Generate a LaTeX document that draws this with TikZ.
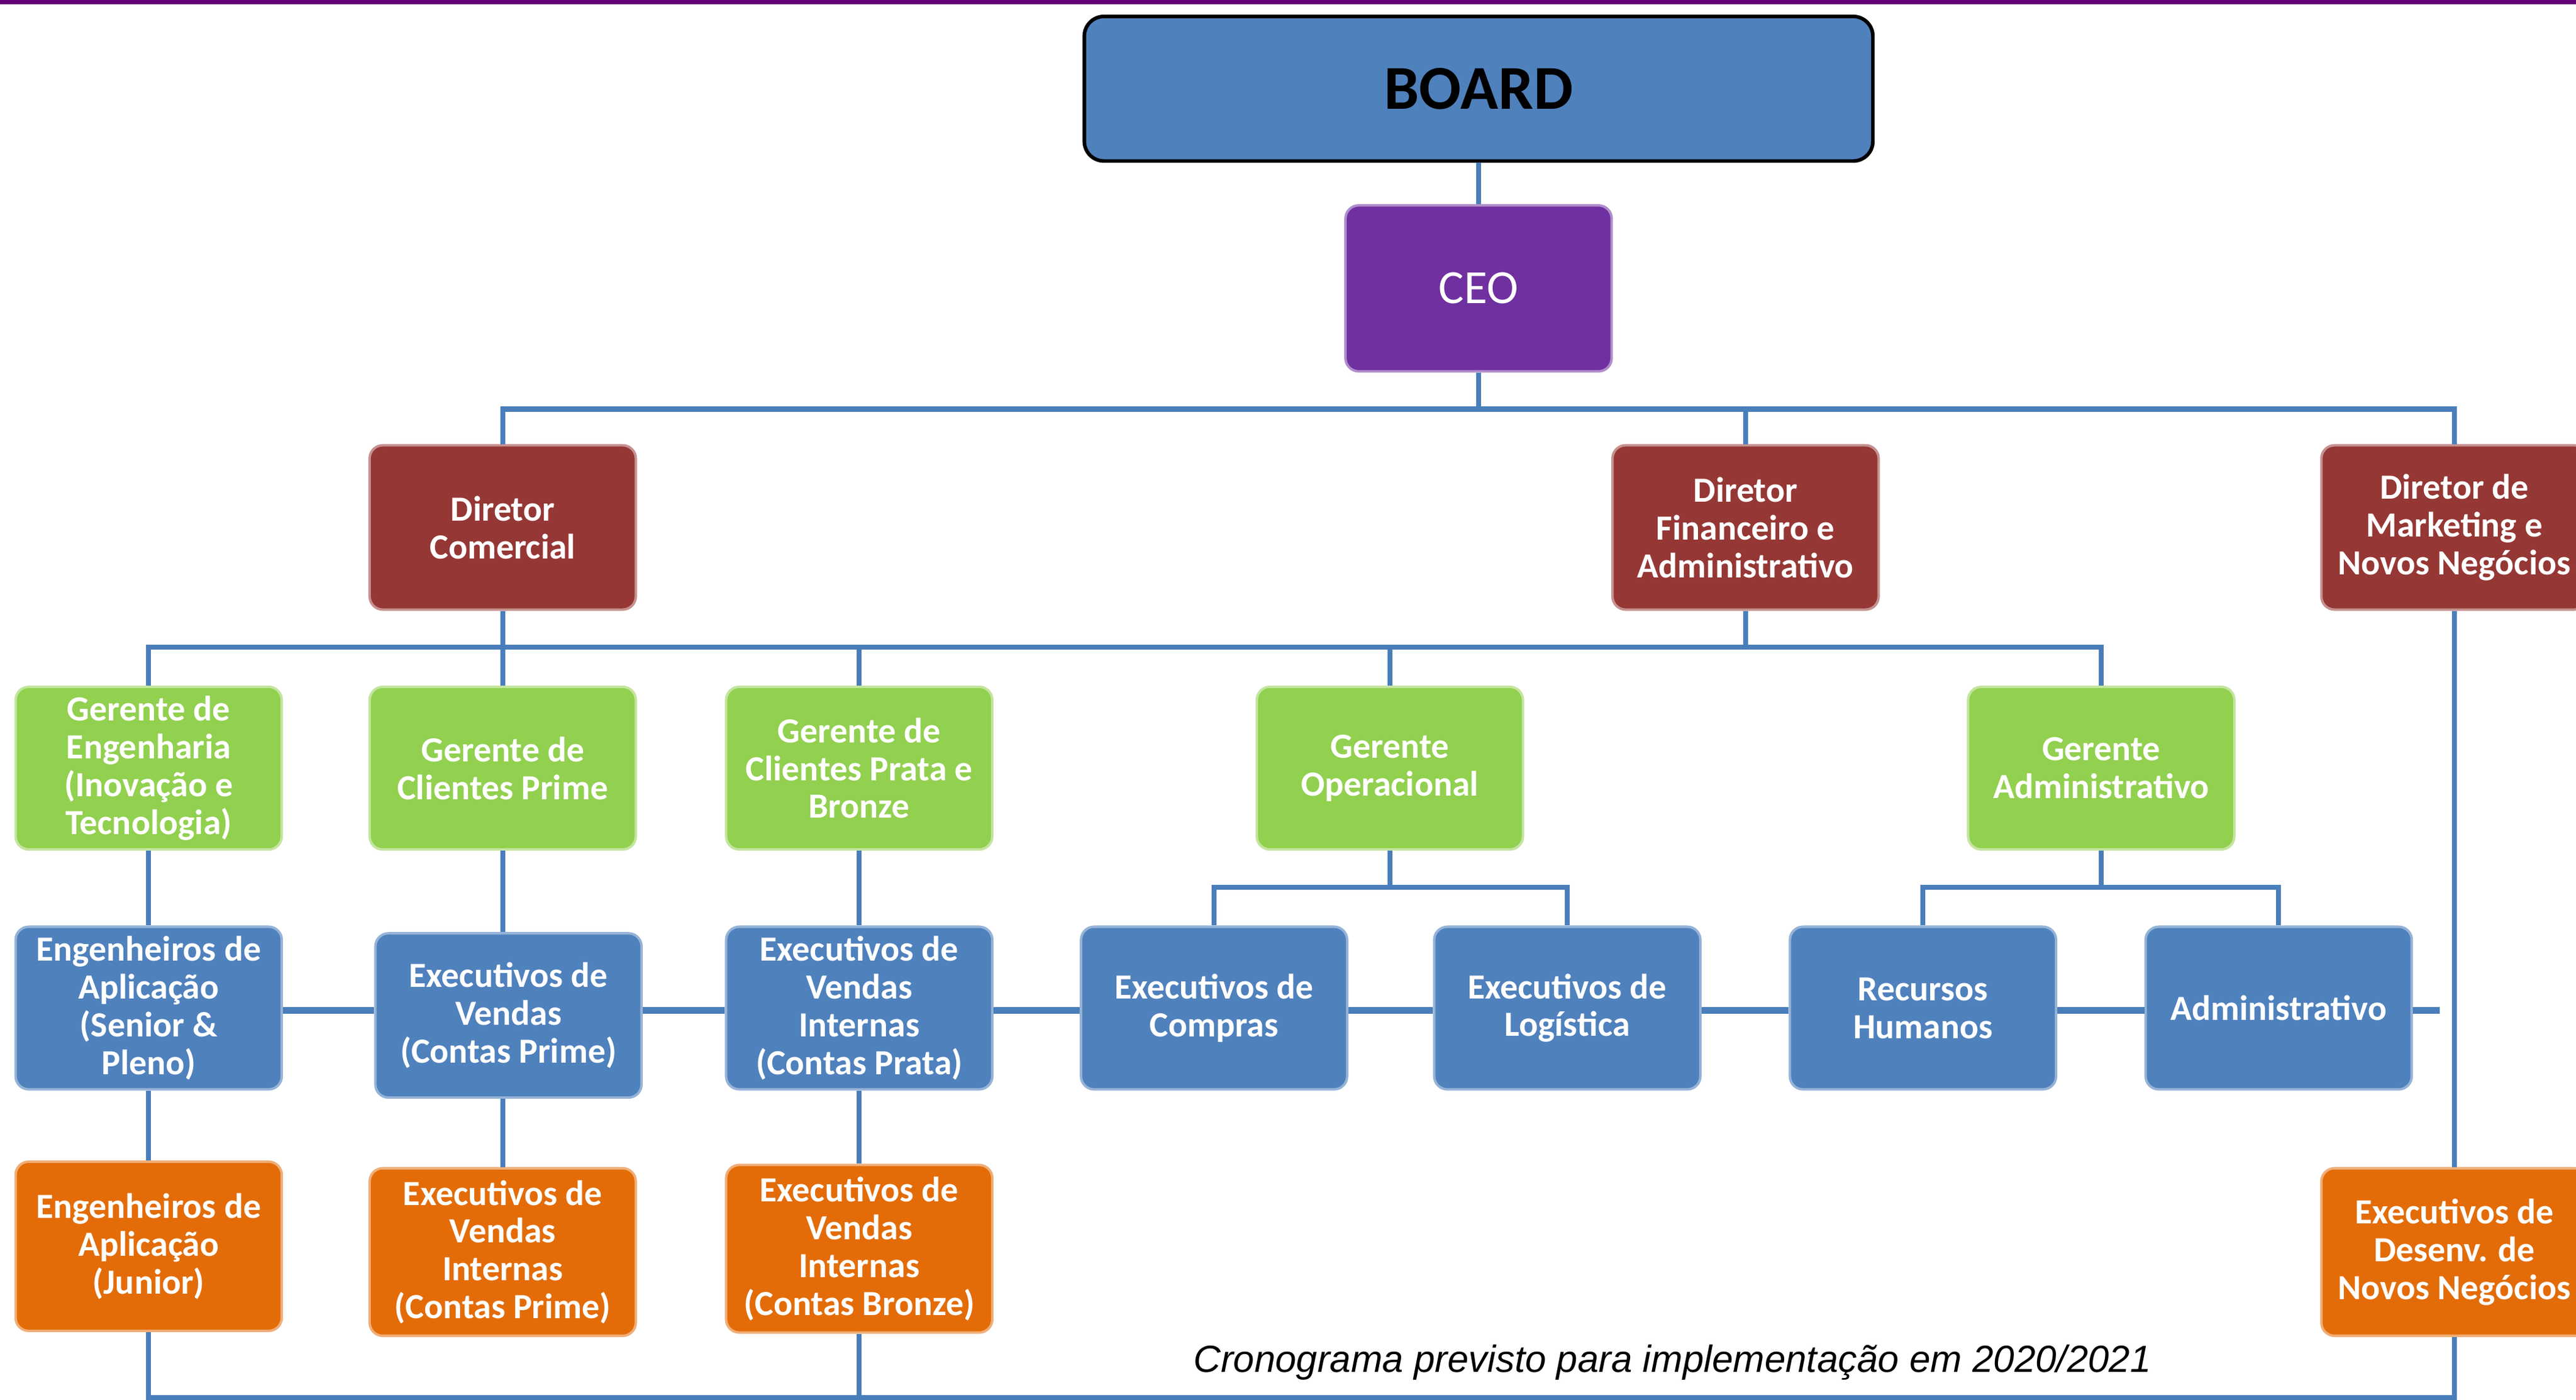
\documentclass[tikz,border=0pt]{standalone}
\usepackage{fontspec}
\setmainfont{Carlito}
\newfontfamily\capfont{Liberation Sans}
\usetikzlibrary{calc}
\definecolor{boardblue}{HTML}{4F81BD}
\definecolor{ceopurple}{HTML}{7030A0}
\definecolor{dirred}{HTML}{953735}
\definecolor{mgrgreen}{HTML}{92D050}
\definecolor{staffblue}{HTML}{4F81BD}
\definecolor{junorange}{HTML}{E36C09}
\definecolor{connblue}{HTML}{4A7EBB}
\definecolor{topline}{RGB}{102,0,120}
\tikzset{
  orgbox/.style={rounded corners=8pt, minimum width=162pt, minimum height=100pt,
    align=center, text=white, inner sep=0pt, line width=1.5pt,
    font=\bfseries\fontsize{21.5}{23}\selectfont},
  dirbox/.style={orgbox, fill=dirred, draw=dirred!55!white},
  mgrbox/.style={orgbox, fill=mgrgreen, draw=mgrgreen!55!white},
  staffbox/.style={orgbox, fill=staffblue, draw=staffblue!60!white},
  junbox/.style={orgbox, fill=junorange, draw=junorange!55!white},
  conn/.style={draw=connblue, line width=3pt},
  rowconn/.style={draw=connblue, line width=4pt},
}
\begin{document}
\begin{tikzpicture}[x=1pt, y=-1pt]
\useasboundingbox (0,0) rectangle (1568,851.7);
\fill[topline] (0,0) rectangle (1568,2.6);

% nodes
\node[rounded corners=12pt, minimum width=480pt, minimum height=88pt, fill=boardblue,
  draw=black, line width=2.2pt, inner sep=0pt, font=\bfseries\fontsize{38}{40}\selectfont]
  (board) at (900,54) {BOARD};
\node[orgbox, fill=ceopurple, draw=ceopurple!55!white, minimum height=101pt,
  font=\fontsize{29}{31}\selectfont] (ceo) at (900,175.5) {CEO};

\node[dirbox] (dc) at (306,321) {Diretor\\Comercial};
\node[dirbox] (df) at (1062.5,321) {Diretor\\Financeiro e\\Administrativo};
\node[dirbox] (dm) at (1494,321) {Diretor de\\Marketing e\\Novos Negócios};

\node[mgrbox, minimum height=99pt] (g1) at (90.5,467.5) {Gerente de\\Engenharia\\(Inovação e\\Tecnologia)};
\node[mgrbox, minimum height=99pt] (g2) at (306,467.5) {Gerente de\\Clientes Prime};
\node[mgrbox, minimum height=99pt] (g3) at (523,467.5) {Gerente de\\Clientes Prata e\\Bronze};
\node[mgrbox, minimum height=99pt] (g4) at (846,467.5) {Gerente\\Operacional};
\node[mgrbox, minimum height=99pt] (g5) at (1279,467.5) {Gerente\\Administrativo};

\node[staffbox, minimum height=99pt] (b1) at (90.5,613.5) {Engenheiros de\\Aplicação\\(Senior \&\\Pleno)};
\node[staffbox] (b2) at (309.5,618) {Executivos de\\Vendas\\(Contas Prime)};
\node[staffbox, minimum height=99pt] (b3) at (523,613.5) {Executivos de\\Vendas\\Internas\\(Contas Prata)};
\node[staffbox, minimum height=99pt] (b4) at (739,613.5) {Executivos de\\Compras};
\node[staffbox, minimum height=99pt] (b5) at (954,613.5) {Executivos de\\Logística};
\node[staffbox, minimum height=99pt] (b6) at (1170.5,613.5) {Recursos\\Humanos};
\node[staffbox, minimum height=99pt] (b7) at (1387,613.5) {Administrativo};

\node[junbox, minimum height=103pt] (o1) at (90.5,758.5) {Engenheiros de\\Aplicação\\(Junior)};
\node[junbox, minimum height=102pt] (o2) at (306,762) {Executivos de\\Vendas\\Internas\\(Contas Prime)};
\node[junbox, minimum height=102pt] (o3) at (523,760) {Executivos de\\Vendas\\Internas\\(Contas Bronze)};
\node[junbox, minimum height=102pt] (o4) at (1494,762) {Executivos de\\Desenv. de\\Novos Negócios};

\node[font=\capfont\itshape\fontsize{23}{25}\selectfont, text=black, inner sep=0pt]
  (cap) at (1018,829) {Cronograma previsto para implementação em 2020/2021};

% bus coordinates
\coordinate (busA) at (0,249);
\coordinate (busB) at (0,394);
\coordinate (busC) at (0,540);
\coordinate (rowy) at (0,615);
\coordinate (busD) at (0,850.5);
\coordinate (stub) at (1485,615);

% connectors
\draw[conn] (board.south) -- (ceo.north);
\draw[conn] (ceo.south) -- (ceo.south |- busA);
\draw[conn] (dc.north) -- (dc.north |- busA) -- (dm.north |- busA) -- (dm.north);
\draw[conn] (df.north) -- (df.north |- busA);

\draw[conn] (dc.south) -- (dc.south |- busB);
\draw[conn] (df.south) -- (df.south |- busB);
\draw[conn] (g1.north) -- (g1.north |- busB) -- (g5.north |- busB) -- (g5.north);
\draw[conn] (g2.north) -- (g2.north |- busB);
\draw[conn] (g3.north) -- (g3.north |- busB);
\draw[conn] (g4.north) -- (g4.north |- busB);

\draw[conn] (g1.south) -- (b1.north);
\draw[conn] (g2.south) -- (g2.south |- b2.north);
\draw[conn] (g3.south) -- (b3.north);
\draw[conn] (g4.south) -- (g4.south |- busC);
\draw[conn] (b4.north) -- (b4.north |- busC) -- (b5.north |- busC) -- (b5.north);
\draw[conn] (g5.south) -- (g5.south |- busC);
\draw[conn] (b6.north) -- (b6.north |- busC) -- (b7.north |- busC) -- (b7.north);

\draw[rowconn] (b1.east |- rowy) -- (b2.west |- rowy);
\draw[rowconn] (b2.east |- rowy) -- (b3.west |- rowy);
\draw[rowconn] (b3.east |- rowy) -- (b4.west |- rowy);
\draw[rowconn] (b4.east |- rowy) -- (b5.west |- rowy);
\draw[rowconn] (b5.east |- rowy) -- (b6.west |- rowy);
\draw[rowconn] (b6.east |- rowy) -- (b7.west |- rowy);
\draw[rowconn] (b7.east |- rowy) -- (stub);

\draw[conn] (b1.south) -- (o1.north);
\draw[conn] (o2.north) -- (o2.north |- b2.south);
\draw[conn] (b3.south) -- (o3.north);
\draw[conn] (dm.south) -- (o4.north);

\draw[conn] (o1.south) -- (o1.south |- busD) -- (o4.south |- busD) -- (o4.south);
\draw[conn] (o3.south) -- (o3.south |- busD);
\end{tikzpicture}
\end{document}
